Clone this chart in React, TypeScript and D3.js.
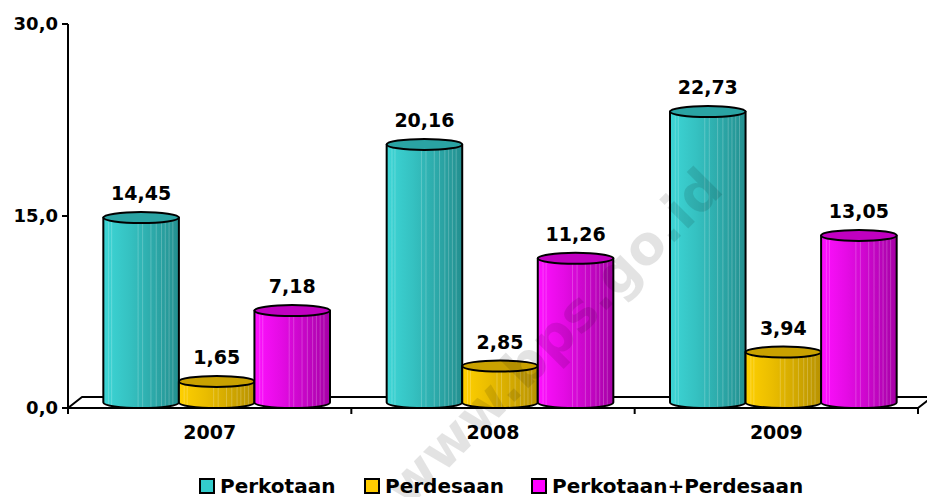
import React from "react";
import * as d3 from "d3";

// data
const years = ["2007", "2008", "2009"];
const seriesNames = ["Perkotaan", "Perdesaan", "Perkotaan+Perdesaan"];
const perkotaan = [14.45, 20.16, 22.73];
const perdesaan = [1.65, 2.85, 3.94];
const gabungan = [7.18, 11.26, 13.05];
const yTicks = [0, 15, 30];
const watermark = "www.bps.go.id";

const seriesValues = [perkotaan, perdesaan, gabungan];
const sideLight = ["#3dd6d6", "#ffd000", "#ff10ff"];
const sideDark = ["#238f8f", "#b89200", "#a600a6"];
const topColor = ["#2aa3a3", "#c9a100", "#c000c0"];
const legendFill = ["#33cccc", "#ffcc00", "#ff00ff"];
// faint vertical streaks seen on the cylinder sides
const streaks = [0.07, 0.11, 0.46, 0.52, 0.63, 0.7, 0.77, 0.82, 0.87, 0.92];

const W = 927;
const H = 497;
const font = "'DejaVu Sans', Verdana, sans-serif";

const fmt = (v: number, d: number) => v.toFixed(d).replace(".", ",");

export default function App() {
  const left = 68;
  const right = 918;
  const floorY = 408;
  const depthX = 14;
  const depthY = 11;

  const y = d3.scaleLinear().domain([0, 30]).range([floorY, 24]);
  // cylinders stand in the middle of the floor depth
  const yBar = d3
    .scaleLinear()
    .domain([0, 30])
    .range([floorY - depthY / 2, 24 - depthY / 2]);

  const x0 = d3.scaleBand<string>().domain(years).range([left, right]).padding(0);
  const x1 = d3
    .scaleBand<string>()
    .domain(seriesNames)
    .range([0, x0.bandwidth()])
    .paddingInner(0)
    .paddingOuter(0.375);

  const bw = x1.bandwidth();
  const rx = bw / 2;
  const ry = 5.5;

  const cylinders = years.flatMap((yr, i) =>
    seriesNames.map((s, j) => {
      const v = seriesValues[j][i];
      const cx = (x0(yr) as number) + depthX / 2 + (x1(s) as number) + rx;
      return { key: yr + s, j, v, cx, top: yBar(v), base: yBar(0) };
    })
  );

  const boundaries = [...years.map((yr) => x0(yr) as number), right];

  return (
    <svg
      width={W}
      height={H}
      style={{ position: "absolute", left: 0, top: 0, display: "block", background: "#fff" }}
      fontFamily={font}
      fontWeight="bold"
    >
      <defs>
        {seriesNames.map((s, j) => (
          <linearGradient id={"side" + j} key={s} x1="0" x2="1" y1="0" y2="0">
            <stop offset="0" stopColor={sideLight[j]} />
            <stop offset="0.35" stopColor={d3.interpolateRgb(sideLight[j], sideDark[j])(0.3)} />
            <stop offset="1" stopColor={sideDark[j]} />
          </linearGradient>
        ))}
      </defs>

      {/* floor */}
      <polygon
        points={`${left},${floorY} ${right},${floorY} ${right + depthX},${floorY - depthY} ${left + depthX},${floorY - depthY}`}
        fill="#fff"
        stroke="#000"
        strokeWidth={2}
        strokeLinejoin="round"
      />

      {/* y axis */}
      <line x1={left} x2={left} y1={y(30)} y2={floorY + 6} stroke="#000" strokeWidth={2} />
      {yTicks.map((t) => (
        <g key={t}>
          <line x1={left - 6} x2={left} y1={y(t)} y2={y(t)} stroke="#000" strokeWidth={2} />
          <text x={left - 10} y={y(t)} dy="0.36em" textAnchor="end" fontSize={18}>
            {fmt(t, 1)}
          </text>
        </g>
      ))}

      {/* x axis ticks and labels */}
      {boundaries.map((bx, i) => (
        <line key={i} x1={bx} x2={bx} y1={floorY} y2={floorY + 6} stroke="#000" strokeWidth={2} />
      ))}
      {years.map((yr) => (
        <text
          key={yr}
          x={(x0(yr) as number) + x0.bandwidth() / 2}
          y={439}
          textAnchor="middle"
          fontSize={19}
        >
          {yr}
        </text>
      ))}

      {/* cylinders */}
      {cylinders.map((c) => (
        <g key={c.key}>
          <path
            d={`M${c.cx - rx},${c.top} L${c.cx - rx},${c.base} A${rx},${ry} 0 0 0 ${c.cx + rx},${c.base} L${c.cx + rx},${c.top} Z`}
            fill={`url(#side${c.j})`}
          />
          {streaks.map((f, k) => {
            const sx = c.cx - rx + f * bw;
            return (
              <line
                key={k}
                x1={sx}
                x2={sx}
                y1={c.top}
                y2={c.base + ry * 0.8}
                stroke="#fff"
                strokeOpacity={0.22}
                strokeWidth={1}
              />
            );
          })}
          <path
            d={`M${c.cx - rx},${c.top} L${c.cx - rx},${c.base} A${rx},${ry} 0 0 0 ${c.cx + rx},${c.base} L${c.cx + rx},${c.top} Z`}
            fill="none"
            stroke="#000"
            strokeWidth={2}
            strokeLinejoin="round"
          />
          <ellipse cx={c.cx} cy={c.top} rx={rx} ry={ry} fill={topColor[c.j]} stroke="#000" strokeWidth={2} />
          <text x={c.cx} y={c.top - ry - 12} textAnchor="middle" fontSize={19}>
            {fmt(c.v, 2)}
          </text>
        </g>
      ))}

      {/* legend */}
      {seriesNames.map((s, j) => {
        const lx = [200, 365, 532][j];
        return (
          <g key={s} transform={`translate(${lx},479)`}>
            <rect x={0} y={0} width={14} height={14} fill={legendFill[j]} stroke="#000" strokeWidth={2} />
            <text x={20} y={14} fontSize={20}>
              {s}
            </text>
          </g>
        );
      })}

      {/* watermark */}
      <text
        x={556}
        y={340}
        textAnchor="middle"
        dominantBaseline="middle"
        fontSize={54}
        fill="#000"
        fillOpacity={0.11}
        transform="rotate(-45 556 340)"
      >
        {watermark}
      </text>
    </svg>
  );
}
